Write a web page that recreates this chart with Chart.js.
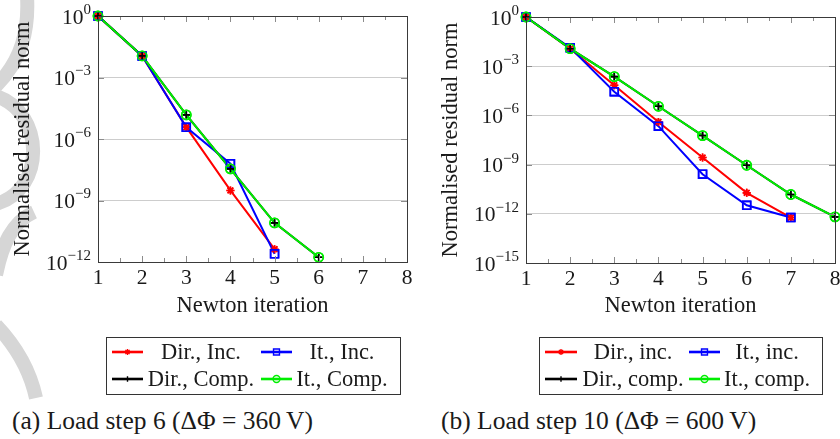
<!DOCTYPE html>
<html lang="en">
<head>
  <meta charset="UTF-8">
  <title>Newton convergence</title>
  <script src="https://cdn.jsdelivr.net/npm/chart.js"></script>
  <style>
    body { margin: 0; background: #fff; }
    #page { position: relative; width: 840px; height: 439px; overflow: hidden; font-family: "Liberation Serif", serif; color: #1a1a1a; }
    .panel { position: absolute; top: 0; width: 420px; height: 400px; }
    .caption { position: absolute; top: 408px; font-size: 25.5px; line-height: 26px; white-space: nowrap; }
    svg.mark { position: absolute; left: 0; top: 0; }
  </style>
</head>
<body>
<div id="page">
  <svg class="mark" width="60" height="439">
    <g fill="none" stroke="#d6d6d6" stroke-width="14">
      <path d="M 27 -4 C 29 30, 22 60, -4 86"/>
      <path d="M -4 96 C 45 112, 46 190, -4 204"/>
      <path d="M 34 212 C 12 222, 2 245, -4 275"/>
      <path d="M -4 325 C 15 345, 30 370, 36 398"/>
    </g>
  </svg>
  <div class="panel" style="left:0"><canvas id="chartA" width="420" height="400"></canvas></div>
  <div class="panel" style="left:420px"><canvas id="chartB" width="420" height="400"></canvas></div>
  <div class="caption" style="left:12px">(a) Load step 6 (ΔΦ = 360&#8201;V)</div>
  <div class="caption" style="left:441px">(b) Load step 10 (ΔΦ = 600&#8201;V)</div>
</div>

<script>
  const iterations = [1, 2, 3, 4, 5, 6, 7, 8];
  const xTicks = [1, 2, 3, 4, 5, 6, 7, 8];

  // load step 6 (360 V)
  const step6Labels = ['Dir., Inc.', 'It., Inc.', 'Dir., Comp.', 'It., Comp.'];
  const step6DirInc = [1, 1.13e-2, 3.8e-6, 3.1e-9, 4.2e-12];
  const step6ItInc = [1, 1.13e-2, 3.7e-6, 6.2e-8, 2.5e-12];
  const step6DirComp = [1, 1.13e-2, 1.5e-5, 3.5e-8, 8.1e-11, 1.7e-12];
  const step6ItComp = [1, 1.13e-2, 1.5e-5, 3.5e-8, 8.1e-11, 1.7e-12];
  const step6YTicks = [1, 1e-3, 1e-6, 1e-9, 1e-12];

  // load step 10 (600 V)
  const step10Labels = ['Dir., inc.', 'It., inc.', 'Dir., comp.', 'It., comp.'];
  const step10DirInc = [1, 1.17e-2, 6.9e-5, 4.0e-7, 2.7e-9, 1.9e-11, 5.9e-13];
  const step10ItInc = [1, 1.35e-2, 2.8e-5, 2.2e-7, 2.6e-10, 3.3e-12, 5.9e-13];
  const step10DirComp = [1, 1.17e-2, 2.3e-4, 3.6e-6, 5.9e-8, 9.1e-10, 1.5e-11, 6.5e-13];
  const step10ItComp = [1, 1.17e-2, 2.3e-4, 3.6e-6, 5.9e-8, 9.1e-10, 1.5e-11, 6.5e-13];
  const step10YTicks = [1, 1e-3, 1e-6, 1e-9, 1e-12, 1e-15];

  const serif = '"Liberation Serif", "DejaVu Serif", serif';
  const ink = '#1a1a1a';

  // red, blue, black, green - later ones on top
  const styles = [
    { color: '#ff0000', pointStyle: 'star', radius: 4, order: 4 },
    { color: '#0000ff', pointStyle: 'rect', radius: 5.6, order: 3 },
    { color: '#000000', pointStyle: 'cross', radius: 3.6, order: 2 },
    { color: '#00ee00', pointStyle: 'circle', radius: 4.6, order: 1 }
  ];

  function makeDatasets(labels, series) {
    return series.map((values, i) => ({
      label: labels[i],
      data: values.map((v, k) => ({ x: iterations[k], y: v })),
      borderColor: styles[i].color,
      backgroundColor: 'rgba(0,0,0,0)',
      borderWidth: 2,
      pointStyle: styles[i].pointStyle,
      pointRadius: styles[i].radius,
      pointBorderWidth: 1.6,
      pointBorderColor: styles[i].color,
      pointBackgroundColor: 'rgba(0,0,0,0)',
      order: styles[i].order,
      clip: false,
      tension: 0
    }));
  }

  // ticks, frame, labels, titles and legend in pgfplots style
  const decor = {
    id: 'decor',
    afterDatasetsDraw(chart) {
      // markers of all plots above all lines
      const ctx = chart.ctx;
      chart.data.datasets.forEach((ds, i) => {
        chart.getDatasetMeta(i).data.forEach(p => p.draw(ctx));
      });
    },
    afterDraw(chart, args, opts) {
      const { ctx, chartArea: a } = chart;
      const xs = chart.scales.x, ys = chart.scales.y;
      ctx.save();

      ctx.strokeStyle = '#8c8c8c';
      ctx.lineWidth = 1;
      xTicks.forEach(v => {
        [v, v + 0.5].forEach(t => {
          if (t > xs.max) return;
          const px = Math.round(xs.getPixelForValue(t)) + 0.5;
          const len = t === v ? 6 : 4;
          ctx.beginPath();
          ctx.moveTo(px, a.bottom); ctx.lineTo(px, a.bottom - len);
          ctx.moveTo(px, a.top); ctx.lineTo(px, a.top + len);
          ctx.stroke();
        });
      });
      ys.ticks.forEach(t => {
        const py = Math.round(ys.getPixelForValue(t.value)) + 0.5;
        ctx.beginPath();
        ctx.moveTo(a.left, py); ctx.lineTo(a.left + 6, py);
        ctx.moveTo(a.right, py); ctx.lineTo(a.right - 6, py);
        ctx.stroke();
      });

      ctx.strokeStyle = '#3a3a3a';
      ctx.strokeRect(Math.round(a.left) + 0.5, Math.round(a.top) + 0.5, Math.round(a.width), Math.round(a.height));

      // x tick labels
      ctx.fillStyle = ink;
      ctx.font = '21.5px ' + serif;
      ctx.textAlign = 'center';
      ctx.textBaseline = 'middle';
      xTicks.forEach(v => {
        ctx.fillText(String(v), xs.getPixelForValue(v), a.bottom + 16);
      });

      // y tick labels 10^k
      ys.ticks.forEach(t => {
        const py = ys.getPixelForValue(t.value);
        const e = Math.round(Math.log10(t.value));
        const sup = e === 0 ? '0' : '\u2212' + Math.abs(e);
        ctx.font = '15px ' + serif;
        const ws = ctx.measureText(sup).width;
        ctx.font = '21.5px ' + serif;
        const wb = ctx.measureText('10').width;
        const right = a.left - 7;
        ctx.textAlign = 'left';
        ctx.fillText('10', right - ws - wb, py + 2);
        ctx.font = '15px ' + serif;
        ctx.fillText(sup, right - ws, py - 6);
      });

      // axis titles
      ctx.font = '22.5px ' + serif;
      ctx.textAlign = 'center';
      ctx.fillText('Newton iteration', (a.left + a.right) / 2, opts.xTitleY);
      ctx.save();
      ctx.translate(opts.yTitleX, (a.top + a.bottom) / 2);
      ctx.rotate(-Math.PI / 2);
      ctx.fillText('Normalised residual norm', 0, 0);
      ctx.restore();

      // legend, two columns
      const lg = opts.legend;
      ctx.strokeStyle = '#333';
      ctx.lineWidth = 1;
      ctx.strokeRect(lg.box[0] + 0.5, lg.box[1] + 0.5, lg.box[2], lg.box[3]);
      chart.data.datasets.forEach((ds, i) => {
        const y = lg.rows[Math.floor(i / 2)];
        const col = i % 2;
        const [x1, x2] = lg.samples[col];
        ctx.strokeStyle = ds.borderColor;
        ctx.lineWidth = 2.6;
        ctx.beginPath();
        ctx.moveTo(x1, y); ctx.lineTo(x2, y);
        ctx.stroke();
        ctx.lineWidth = 1.4;
        ctx.fillStyle = 'rgba(0,0,0,0)';
        Chart.helpers.drawPoint(ctx, {
          pointStyle: ds.pointStyle, radius: ds.pointRadius * 0.75, borderWidth: 1.4, rotation: 0
        }, (x1 + x2) / 2, y);
        ctx.fillStyle = ink;
        ctx.font = '22.5px ' + serif;
        ctx.textAlign = 'center';
        ctx.fillText(ds.label, lg.textX[col], y + 1);
      });

      ctx.restore();
    }
  };

  function makeChart(id, labels, series, yTicks, pad, opts) {
    return new Chart(document.getElementById(id), {
      type: 'line',
      data: { datasets: makeDatasets(labels, series) },
      plugins: [decor],
      options: {
        responsive: false,
        animation: false,
        devicePixelRatio: 1,
        layout: { padding: pad, autoPadding: false },
        plugins: { legend: { display: false }, tooltip: { enabled: false }, decor: opts },
        scales: {
          x: {
            type: 'linear', min: 1, max: 8,
            ticks: { display: false },
            grid: { display: false, drawTicks: false },
            border: { display: false }
          },
          y: {
            type: 'logarithmic', min: yTicks[yTicks.length - 1], max: yTicks[0],
            afterBuildTicks: s => { s.ticks = yTicks.map(v => ({ value: v })); },
            ticks: { display: false },
            grid: { color: '#cdcdcd', lineWidth: 1, drawTicks: false },
            border: { display: false }
          }
        }
      }
    });
  }

  makeChart('chartA', step6Labels, [step6DirInc, step6ItInc, step6DirComp, step6ItComp], step6YTicks,
    { left: 98, right: 13, top: 16, bottom: 138 },
    {
      xTitleY: 306, yTitleX: 23,
      legend: { box: [106, 337, 294, 57], rows: [352, 379], samples: [[112, 143], [261, 292]], textX: [201, 342] }
    });

  makeChart('chartB', step10Labels, [step10DirInc, step10ItInc, step10DirComp, step10ItComp], step10YTicks,
    { left: 106, right: 5, top: 17, bottom: 137 },
    {
      xTitleY: 306, yTitleX: 31,
      legend: { box: [119, 337, 283, 57], rows: [352, 379], samples: [[125, 157], [269, 300]], textX: [213, 347] }
    });
</script>
</body>
</html>
